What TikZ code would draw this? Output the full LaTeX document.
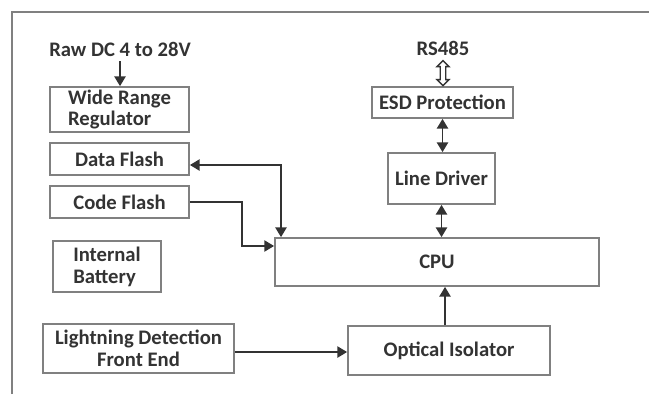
\documentclass[tikz,border=0pt]{standalone}
\usepackage{fontspec}
\setmainfont{Carlito}
\usetikzlibrary{arrows.meta,shapes.arrows,calc}

\definecolor{boxgray}{HTML}{808080}
\definecolor{inkgray}{HTML}{333333}
\tikzset{
  blk/.style={draw=boxgray, line width=1.2pt, inner sep=0pt},
  lbl/.style={text=inkgray, font=\bfseries\fontsize{14.7}{15.5}\selectfont},
  sig/.style={draw=inkgray, line width=1.3pt, -{Triangle[length=7pt,width=8pt]}},
  bisig/.style={sig, {Triangle[length=7pt,width=8pt]}-{Triangle[length=7pt,width=8pt]}},
  hollow/.style={double arrow, draw=inkgray, line width=1pt, inner sep=0pt,
    shape border rotate=90, minimum width=0.3cm, text width=0.1cm,
    double arrow head extend=0.08cm, minimum height=0.625cm},
}

\begin{document}
\begin{tikzpicture}[x=0.025cm, y=-0.025cm]
  \useasboundingbox (0,0) rectangle (649,394);
  % outer frame, cut at right and bottom
  \draw[boxgray, line width=1.6pt] (12,394) -- (12,12) -- (649,12);

  % left column
  \node[lbl] (raw) at (120,49) {Raw DC 4 to 28V};
  \node[blk, lbl, align=left, minimum width=3.475cm, minimum height=1.125cm] (reg) at (119.5,109.5) {Wide Range\\Regulator};
  \node[blk, lbl, minimum width=3.475cm, minimum height=0.8cm] (dflash) at (119.5,159) {Data Flash};
  \node[blk, lbl, minimum width=3.475cm, minimum height=0.8cm] (cflash) at (119.5,202) {Code Flash};
  \node[blk, lbl, align=left, minimum width=2.7cm, minimum height=1.275cm] (batt) at (107,266.5) {Internal\\Battery};
  \node[blk, lbl, align=center, minimum width=4.775cm, minimum height=1.225cm] (light) at (138.5,348.5) {Lightning Detection\\Front End};

  % right column
  \node[lbl] (rs) at (443,48) {RS485};
  \node[blk, lbl, minimum width=3.525cm, minimum height=0.775cm] (esd) at (442.5,102.5) {ESD Protection};
  \node[blk, lbl, minimum width=2.675cm, minimum height=1.275cm] (ldrv) at (441.5,178.5) {Line Driver};
  \node[blk, lbl, minimum width=8.1cm, minimum height=1.2cm] (cpu) at (437,262) {CPU};
  \node[blk, lbl, minimum width=5.05cm, minimum height=1.225cm] (opt) at (449,350.5) {Optical Isolator};

  % bends
  \coordinate (dbus) at (281,165);
  \coordinate (cbend) at (242,246);

  % connectors
  \draw[sig] (raw.south) -- (raw.south |- reg.north);
  \node[hollow] (rslink) at ($(rs.south)!0.5!(rs.south |- esd.north)$) {};
  \draw[bisig] (esd.south) -- (esd.south |- ldrv.north);
  \draw[bisig] (ldrv.south) -- (ldrv.south |- cpu.north);
  \draw[sig] ([xshift=-0.1cm]opt.north) -- ([xshift=-0.1cm]opt.north |- cpu.south);
  \draw[sig] (light.east |- 0,352) -- (opt.west |- 0,352);
  \draw[bisig] (dflash.east |- dbus) -- (dbus) -- (dbus |- cpu.north);
  \draw[sig] (cflash.east) -| (cbend) -- (cbend -| cpu.west);
\end{tikzpicture}
\end{document}
